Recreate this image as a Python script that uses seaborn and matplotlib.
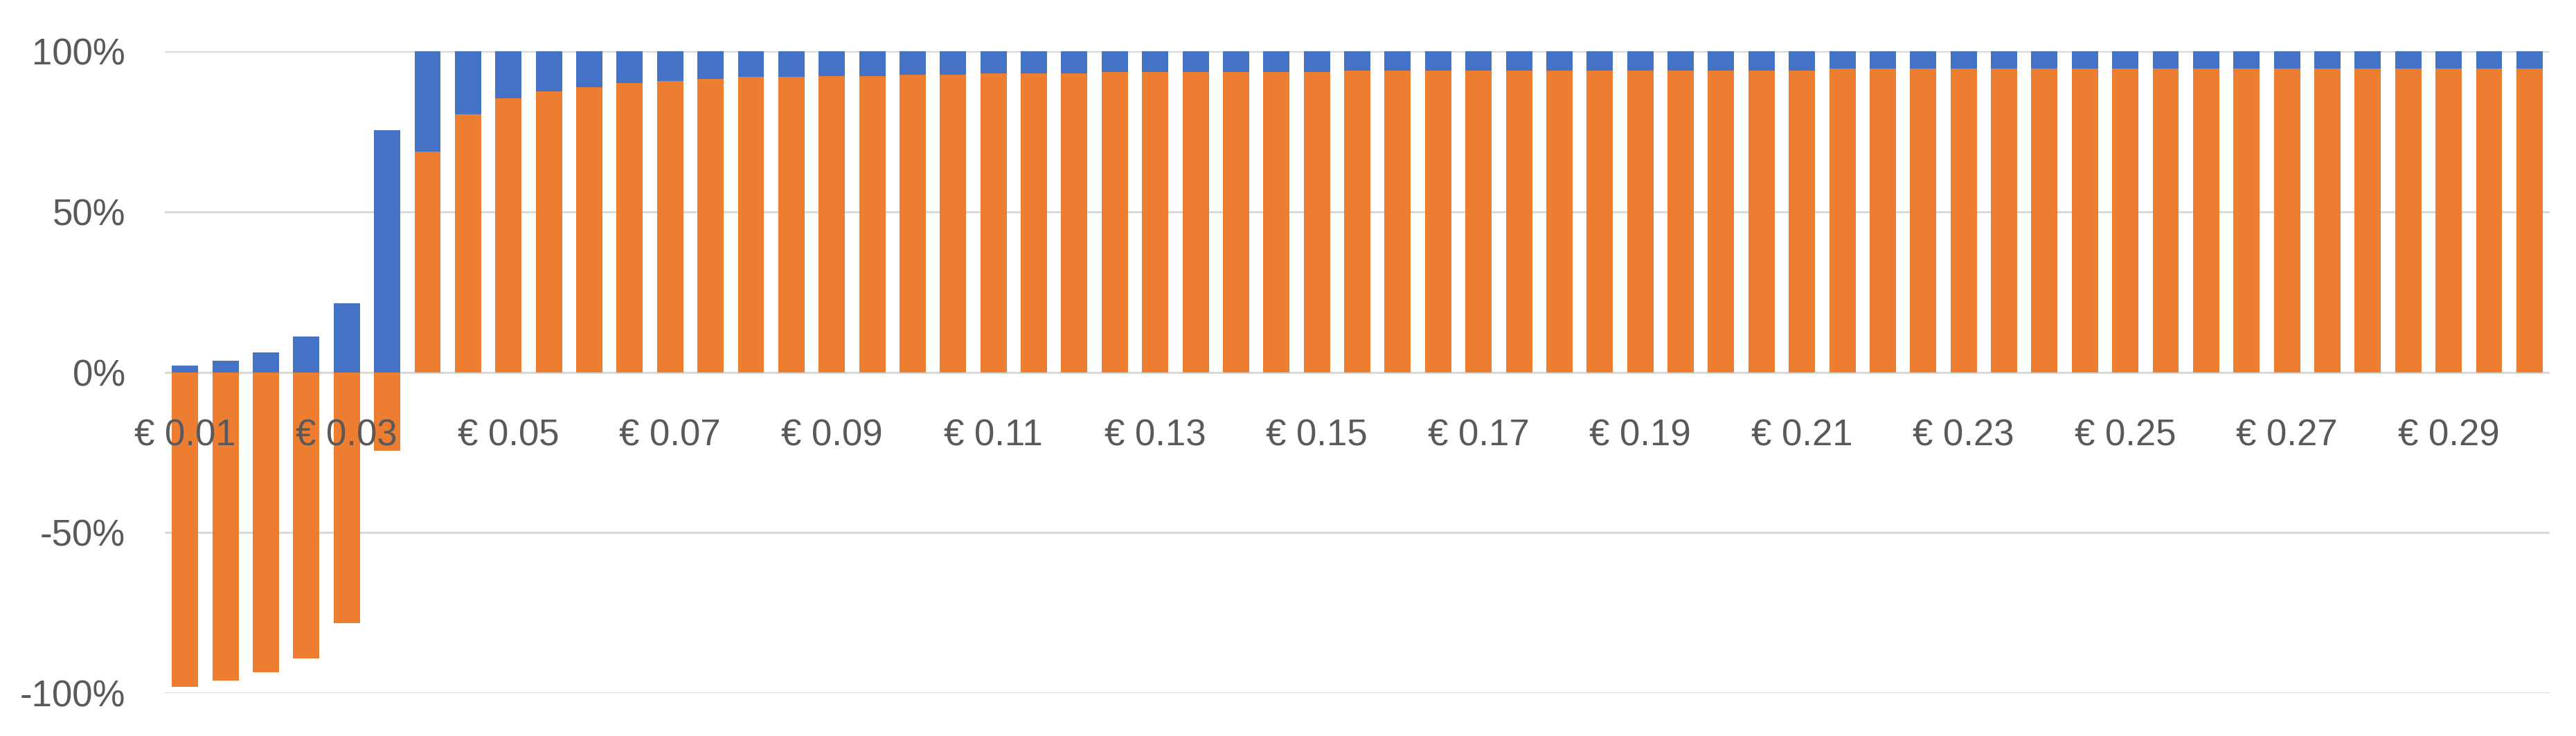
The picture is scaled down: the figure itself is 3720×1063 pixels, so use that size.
import pandas as pd
import seaborn as sns
import matplotlib.pyplot as plt
from matplotlib.ticker import FixedLocator

# --- dados ---
precos = [0.010, 0.015, 0.020, 0.025, 0.030, 0.035, 0.040, 0.045, 0.050, 0.055,
          0.060, 0.065, 0.070, 0.075, 0.080, 0.085, 0.090, 0.095, 0.100, 0.105,
          0.110, 0.115, 0.120, 0.125, 0.130, 0.135, 0.140, 0.145, 0.150, 0.155,
          0.160, 0.165, 0.170, 0.175, 0.180, 0.185, 0.190, 0.195, 0.200, 0.205,
          0.210, 0.215, 0.220, 0.225, 0.230, 0.235, 0.240, 0.245, 0.250, 0.255,
          0.260, 0.265, 0.270, 0.275, 0.280, 0.285, 0.290, 0.295, 0.300]

laranja = [-0.980, -0.962, -0.936, -0.892, -0.782, -0.245, 0.687, 0.805, 0.854, 0.876,
           0.889, 0.902, 0.907, 0.915, 0.920, 0.920, 0.924, 0.924, 0.928, 0.928,
           0.932, 0.932, 0.932, 0.937, 0.937, 0.937, 0.937, 0.937, 0.937, 0.941,
           0.941, 0.941, 0.941, 0.941, 0.941, 0.941, 0.941, 0.941, 0.941, 0.941,
           0.941, 0.946, 0.946, 0.946, 0.946, 0.946, 0.946, 0.946, 0.946, 0.946,
           0.946, 0.946, 0.946, 0.946, 0.946, 0.946, 0.946, 0.946, 0.946]

azul = [0.022, 0.037, 0.063, 0.112, 0.216, 0.754, 0.313, 0.195, 0.146, 0.124,
        0.111, 0.098, 0.093, 0.085, 0.080, 0.080, 0.076, 0.076, 0.072, 0.072,
        0.068, 0.068, 0.068, 0.063, 0.063, 0.063, 0.063, 0.063, 0.063, 0.059,
        0.059, 0.059, 0.059, 0.059, 0.059, 0.059, 0.059, 0.059, 0.059, 0.059,
        0.059, 0.054, 0.054, 0.054, 0.054, 0.054, 0.054, 0.054, 0.054, 0.054,
        0.054, 0.054, 0.054, 0.054, 0.054, 0.054, 0.054, 0.054, 0.054]

rotulos_y = ['-100%', '-50%', '0%', '50%', '100%']
valores_y = [-1.0, -0.5, 0.0, 0.5, 1.0]

AZUL = '#4472C4'
LARANJA = '#ED7D31'
CINZA = '#595959'

df = pd.DataFrame({'preco': [f'{p:.3f}' for p in precos],
                   'laranja': laranja, 'azul': azul})
# empilhamento: azul fica em cima do laranja positivo, ou a partir do zero
df['topo_azul'] = df['laranja'].clip(lower=0) + df['azul']

sns.set_style('white')
plt.rcParams['font.family'] = ['Liberation Sans', 'DejaVu Sans']

fig = plt.figure(figsize=(37.2, 10.63), dpi=100)
ax = fig.add_axes([0.064, 0.0583, 0.9258, 0.8717])

for y in valores_y:
    ax.axhline(y, color='#D9D9D9', linewidth=2.2, zorder=0)

sns.barplot(data=df, x='preco', y='topo_azul', color=AZUL, width=0.65,
            linewidth=0, saturation=1, ax=ax, zorder=1)
sns.barplot(data=df, x='preco', y='laranja', color=LARANJA, width=0.65,
            linewidth=0, saturation=1, ax=ax, zorder=1.5)

ax.set_xlim(-0.5, len(precos) - 0.5)
ax.set_ylim(-1.0, 1.0)

pos = list(range(0, len(precos), 4))
ax.xaxis.set_major_locator(FixedLocator(pos))
ax.set_xticklabels([f'€ {precos[i]:.2f}' for i in pos])
ax.set_yticks(valores_y)
ax.set_yticklabels(rotulos_y)

ax.spines['bottom'].set_position(('data', 0))
for s in ax.spines.values():
    s.set_visible(False)

# rótulos do eixo x por cima das barras, como no Excel
ax.xaxis.set_zorder(5)

ax.tick_params(axis='x', length=0, pad=48, labelsize=38, labelcolor=CINZA)
ax.tick_params(axis='y', length=0, pad=41, labelsize=38, labelcolor=CINZA)
ax.set_xlabel('')
ax.set_ylabel('')

fig.savefig('out.png', dpi=100)
